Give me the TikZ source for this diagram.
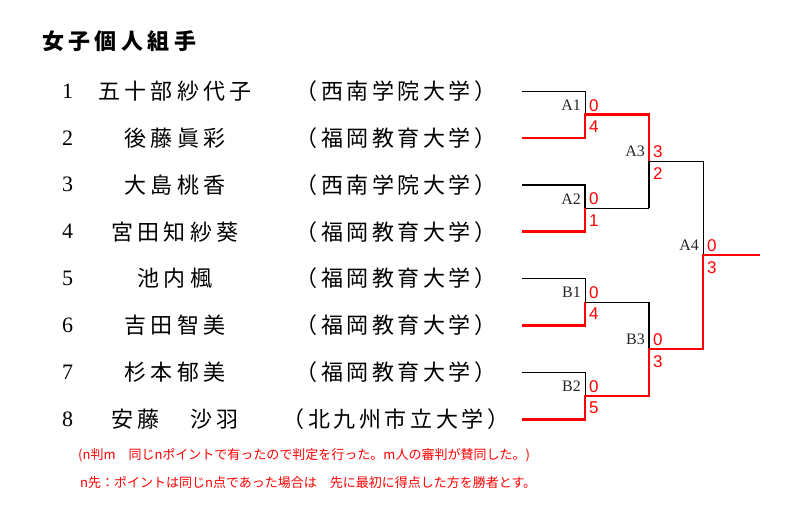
\documentclass[tikz,border=0pt]{standalone}
\usepackage{fontspec}
\setmainfont{Liberation Serif}
\newfontfamily\jp{Noto Sans CJK JP}
\newfontfamily\jpsp[LetterSpace=20]{Noto Sans CJK JP}
\newfontfamily\jpuni[LetterSpace=16]{Noto Sans CJK JP}
\newfontfamily\scorefont{Liberation Sans}
\definecolor{winred}{RGB}{255,0,0}
\begin{document}
\begin{tikzpicture}[x=1pt,y=-1pt,
  numtxt/.style={inner sep=0pt,font=\fontsize{22}{24}\selectfont},
  nametxt/.style={inner sep=0pt,font=\jpsp\fontsize{22}{24}\selectfont},
  unitxt/.style={inner sep=0pt,font=\jpuni\fontsize{22}{24}\selectfont},
  titletxt/.style={inner sep=0pt,anchor=west,font=\jpsp\bfseries\fontsize{22}{24}\selectfont},
  notetxt/.style={inner sep=0pt,anchor=west,text=winred,font=\jp\fontsize{13}{15}\selectfont},
  lose/.style={draw=black,line width=1pt},
  losethick/.style={draw=black,line width=1.8pt},
  win/.style={draw=winred,line width=2.6pt,line join=miter},
  matchlbl/.style={inner sep=0pt,anchor=south east,font=\fontsize{16}{18}\selectfont,text=black!85},
  scoreup/.style={inner sep=0pt,anchor=south west,text=winred,font=\scorefont\fontsize{17}{19}\selectfont},
  scoredn/.style={inner sep=0pt,anchor=north west,text=winred,font=\scorefont\fontsize{17}{19}\selectfont}]
\useasboundingbox (0,0) rectangle (795,527);
\fill[white] (0,0) rectangle (795,527);

\node[titletxt] (title) at (42,41) {女子個人組手};

\foreach \i/\nm/\un in {1/五十部紗代子/（西南学院大学）,2/後藤眞彩/（福岡教育大学）,3/大島桃香/（西南学院大学）,4/宮田知紗葵/（福岡教育大学）,5/池内楓/（福岡教育大学）,6/吉田智美/（福岡教育大学）,7/杉本郁美/（福岡教育大学）,8/安藤　沙羽/（北九州市立大学）}{
  \pgfmathsetmacro\yy{91+46.9*(\i-1)}
  \node[numtxt] (n\i) at (67.5,\yy) {\i};
  \node[nametxt] (nm\i) at (175,\yy) {\nm};
  \node[unitxt] (u\i) at (396,\yy) {\un};
  \coordinate (s\i) at (522,\yy);
}

\coordinate (a1) at (585,114.45);  \coordinate (a1r) at (649,114.45);
\coordinate (a2) at (585,208.25);  \coordinate (a2r) at (649,208.25);
\coordinate (a3) at (649,161.35);  \coordinate (a3r) at (703,161.35);
\coordinate (b1) at (585,302.05);  \coordinate (b1r) at (649,302.05);
\coordinate (b2) at (585,395.85);  \coordinate (b2r) at (649,395.85);
\coordinate (b3) at (649,348.95);  \coordinate (b3r) at (703,348.95);
\coordinate (a4) at (703,255.15);  \coordinate (fin) at (760,255.15);

% losing paths
\draw[lose] (s1) -| (a1);
\draw[losethick] (s3) -| (a2);
\draw[lose] (a2) -- (a2r);
\draw[losethick] (a2r) -- (a3);
\draw[lose] (a3) -- (a3r) -- (a4);
\draw[lose] (s5) -| (b1);
\draw[lose] (b1) -- (b1r);
\draw[losethick] (b1r) -- (b3);
\draw[lose] (s7) -| (b2);

% winning paths
\draw[win] (s2) -| (a1) -- (a1r) -- (a3);
\draw[win] (s4) -| (a2);
\draw[win] (s6) -| (b1);
\draw[win] (s8) -| (b2) -- (b2r) -- (b3) -- (b3r) -- (a4) -- (fin);

% match labels and scores
\foreach \m/\lbl/\up/\dn in {a1/A1/0/4,a2/A2/0/1,a3/A3/3/2,b1/B1/0/4,b2/B2/0/5,b3/B3/0/3,a4/A4/0/3}{
  \node[matchlbl] (l\m) at ([shift={(-4,-4)}]\m) {\lbl};
  \node[scoreup] (su\m) at ([shift={(4,-3)}]\m) {\up};
  \node[scoredn] (sd\m) at ([shift={(4,6)}]\m) {\dn};
}

\node[notetxt] (note1) at (78,455) {(n判m　同じnポイントで有ったので判定を行った。m人の審判が賛同した。)};
\node[notetxt] (note2) at (80,483) {n先：ポイントは同じn点であった場合は　先に最初に得点した方を勝者とす。};
\end{tikzpicture}
\end{document}
